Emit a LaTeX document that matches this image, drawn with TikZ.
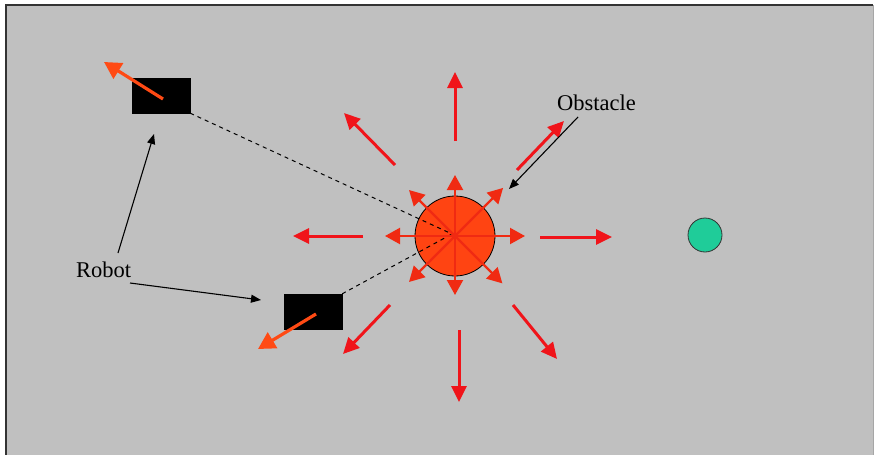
\documentclass[tikz,border=0pt]{standalone}
\usepackage{fontspec}
\setmainfont{Liberation Serif}
\usetikzlibrary{arrows.meta}
\definecolor{bggray}{HTML}{C0C0C0}
\definecolor{obsfill}{HTML}{FF4412}
\definecolor{redarr}{HTML}{F0141A}
\definecolor{innerarr}{HTML}{F02A12}
\definecolor{robarr}{HTML}{FF4A14}
\definecolor{goalfill}{HTML}{1FCC99}
\tikzset{
  forcearrow/.style={draw=redarr, line width=3pt, -{Triangle[length=16pt,width=15pt]}},
  innerarrow/.style={draw=innerarr, line width=2.2pt, -{Triangle[length=15pt,width=16pt]}},
  robotarrow/.style={draw=robarr, line width=3.2pt, -{Triangle[length=17pt,width=18pt]}},
  pointer/.style={draw=black, line width=1.1pt, -{Triangle[length=10pt,width=8pt]}},
  sightline/.style={draw=black, line width=1pt, dash pattern=on 4pt off 4pt},
  robotbox/.style={fill=black, draw=black, minimum width=58pt, minimum height=35pt, inner sep=0pt},
  label/.style={font=\fontsize{22.5}{24}\selectfont, inner sep=0pt}
}
\begin{document}
\begin{tikzpicture}[x=1pt,y=-1pt]
\useasboundingbox (0,0) rectangle (876,455);
\fill[white] (0,0) rectangle (876,455);
\fill[bggray] (6,5) rectangle (873,455);
\draw[black!80, line width=1.5pt] (6,455) -- (6,5) -- (873,5);
\draw[black!35, line width=1pt] (873,5) -- (873,455);

% robots
\node[robotbox] (r1) at (161,95.5) {};
\node[robotbox] (r2) at (313,311.5) {};
% obstacle and goal
\node[circle, fill=obsfill, draw=black, line width=0.8pt, minimum size=80pt, inner sep=0pt] (obs) at (455,236) {};
\node[circle, fill=goalfill, draw=black!80, line width=0.8pt, minimum size=34pt, inner sep=0pt] (goal) at (705,235) {};

% sight lines
\coordinate (oc) at (452,234);
\draw[sightline] (r1.south east) -- (oc);
\draw[sightline] (r2.north east) -- (oc);

% inner arrows
\foreach \ang/\len in {0/70,45/67,90/59,135/65,180/70,225/65,270/61,315/68} {
  \draw[innerarrow] (obs.center) -- ++(\ang:\len);
}

% outer arrows
\coordinate (u1) at (455,141); \coordinate (u2) at (455,72);
\coordinate (d1) at (459,330); \coordinate (d2) at (459,402);
\coordinate (l1) at (363,236); \coordinate (l2) at (293,236);
\coordinate (rr1) at (540,237); \coordinate (rr2) at (612,237);
\coordinate (ul1) at (395,165); \coordinate (ul2) at (344,113);
\coordinate (dl1) at (390,305); \coordinate (dl2) at (343,354);
\coordinate (dr1) at (513,305); \coordinate (dr2) at (557,359);
\coordinate (ur1) at (517,170); \coordinate (ur2) at (564,121);
\foreach \a/\b in {u1/u2,d1/d2,l1/l2,rr1/rr2,ul1/ul2,dl1/dl2,dr1/dr2,ur1/ur2} {
  \draw[forcearrow] (\a) -- (\b);
}

% robot heading arrows
\coordinate (h1) at (104,62);
\coordinate (h2) at (258,349);
\draw[robotarrow] (163,99) -- (h1);
\draw[robotarrow] (316,314) -- (h2);

% labels
\node[label, anchor=base west] (obst) at (557,110) {Obstacle};
\node[label, anchor=base west] (robot) at (76,277) {Robot};
\coordinate (op) at (578,117);
\coordinate (ot) at (509,189);
\draw[pointer] (op) -- (ot);
\coordinate (rp1) at (118,253);
\coordinate (rt1) at (154,134);
\coordinate (rp2) at (130,283);
\coordinate (rt2) at (261,300);
\draw[pointer] (rp1) -- (rt1);
\draw[pointer] (rp2) -- (rt2);
\end{tikzpicture}
\end{document}
